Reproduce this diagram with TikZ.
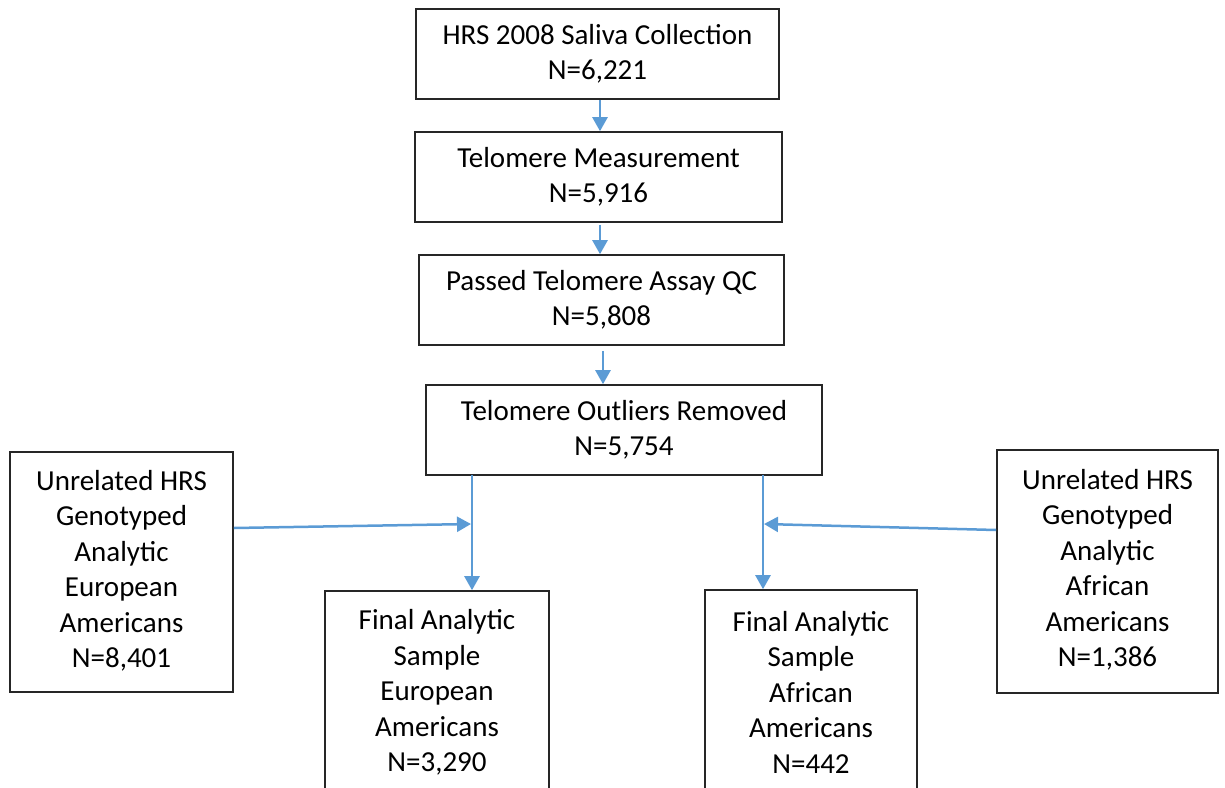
\documentclass[tikz,border=0pt]{standalone}
\usepackage{fontspec}
\setmainfont{Carlito}
\usetikzlibrary{arrows.meta,positioning}

\definecolor{flowblue}{HTML}{5B9BD5}

\begin{document}
\begin{tikzpicture}[x=1pt,y=-1pt,
    box/.style={draw=black!85,line width=1.6pt,fill=white,align=center,
        inner sep=0pt,font=\fontsize{29}{35}\selectfont},
    words/.style={align=center,inner sep=0pt,font=\fontsize{29}{35.5}\selectfont},
    arr/.style={draw=flowblue,line width=2.5pt,
        -{Triangle[length=14pt,width=15pt]}}]
    \useasboundingbox (0,0) rectangle (1225,787);
    \clip (0,0) rectangle (1225,787);
    % main column
    \node[box,minimum width=363pt,minimum height=90pt] (saliva) at (597.5,54)
        {HRS 2008 Saliva Collection\\N=6,221};
    \node[box,minimum width=367pt,minimum height=90pt] (measure) at (598.5,177)
        {Telomere Measurement\\N=5,916};
    \node[box,minimum width=365pt,minimum height=90pt] (assayqc) at (601.5,300)
        {Passed Telomere Assay QC\\N=5,808};
    \node[box,minimum width=396pt,minimum height=90pt] (outliers) at (624,430)
        {Telomere Outliers Removed\\N=5,754};
    % side boxes
    \node[box,minimum width=223pt,minimum height=240pt] (unrelEA) at (121.5,572) {};
    \node[words] at ([yshift=1pt]unrelEA.center)
        {Unrelated HRS\\Genotyped\\Analytic\\European\\Americans\\N=8,401};
    \node[box,minimum width=221pt,minimum height=243pt] (unrelAA) at (1107.5,571.5) {};
    \node[words] at ([yshift=1.5pt]unrelAA.center)
        {Unrelated HRS\\Genotyped\\Analytic\\African\\Americans\\N=1,386};
    % final samples (run off the bottom)
    \node[box,minimum width=224pt,minimum height=210pt] (finalEA) at (437,696) {};
    \node[words] at (437,692.5)
        {Final Analytic\\Sample\\European\\Americans\\N=3,290};
    \node[box,minimum width=212pt,minimum height=210pt] (finalAA) at (811,695) {};
    \node[words] at (811,692)
        {Final Analytic\\Sample\\African\\Americans\\N=442};
    % arrows
    \coordinate (colA) at (600,0);
    \coordinate (colB) at (603,0);
    \coordinate (tapEA) at (472,475);
    \coordinate (tapAA) at (763,475);
    \coordinate (joinEA) at (471,524);
    \coordinate (joinAA) at (764,524);
    \draw[arr] (saliva.south -| colA) -- (measure.north -| colA);
    \draw[arr] ([yshift=-2pt]measure.south -| colA) -- (assayqc.north -| colA);
    \draw[arr] ([yshift=-5pt]assayqc.south -| colB) -- (outliers.north -| colB);
    \draw[arr] (tapEA) -- (finalEA.north -| tapEA);
    \draw[arr] (tapAA) -- (finalAA.north -| tapAA);
    \draw[arr] ([yshift=44pt]unrelEA.east) -- (joinEA);
    \draw[arr] ([yshift=41.5pt]unrelAA.west) -- (joinAA);
\end{tikzpicture}
\end{document}
